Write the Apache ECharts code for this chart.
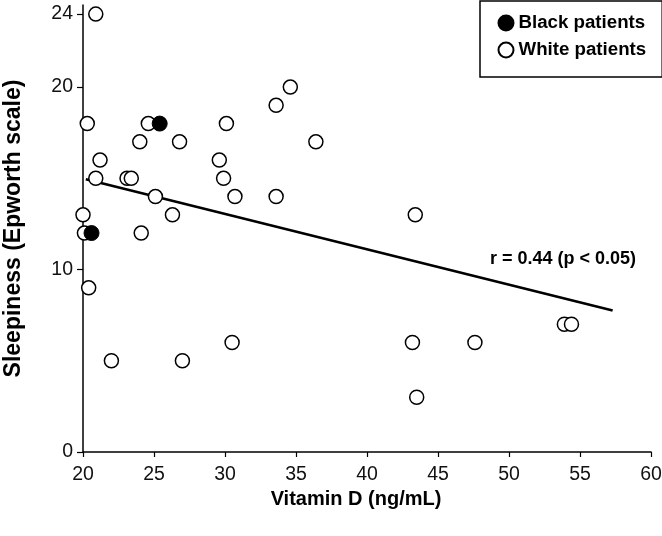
<!DOCTYPE html>
<html>
<head>
<meta charset="utf-8">
<script src="https://cdn.jsdelivr.net/npm/echarts@6/dist/echarts.min.js"></script>
<style>
html,body{margin:0;padding:0;background:#fff;}
#chart{width:662px;height:536px;}
</style>
</head>
<body>
<div id="chart"></div>
<script>
// Data
var whiteVitD  = [20.9, 20.3, 24.6, 30.1, 24.0, 26.8, 36.4, 21.2, 29.6, 20.9, 23.1, 23.4, 29.9, 25.1, 30.7, 33.6, 20.0, 26.3, 43.4, 20.1, 24.1, 33.6, 34.6, 20.4, 22.0, 27.0, 30.5, 43.2, 47.6, 53.9, 54.4, 43.5];
var whiteSleep = [24,   18,   18,   18,   17,   17,   17,   16,   16,   15,   15,   15,   15,   14,   14,   14,   13,   13,   13,   12,   12,   19,   20,   9,    5,    5,    6,    6,    6,    7,    7,    3];
var blackVitD  = [25.4, 20.6];
var blackSleep = [18,   12];
var fitVitD    = [20.2, 57.3];
var fitSleep   = [14.95, 7.75];
var yTickValues = [0, 10, 20, 24];
var annotationText = 'r = 0.44 (p < 0.05)';

function zip(xs, ys) { return xs.map(function (x, i) { return [x, ys[i]]; }); }

var FONT = '"Liberation Sans", Arial, sans-serif';

var chart = echarts.init(document.getElementById('chart'), null, {renderer: 'canvas'});
chart.setOption({
  animation: false,
  backgroundColor: '#fff',
  grid: {left: 83, right: 11, top: 5, bottom: 84, containLabel: false, outerBoundsMode: 'none'},
  xAxis: {
    type: 'value', min: 20, max: 60, interval: 5,
    name: 'Vitamin D (ng/mL)', nameLocation: 'middle', nameGap: 29,
    nameTextStyle: {fontFamily: FONT, fontSize: 20, fontWeight: 'bold', color: '#000', padding: [0, 22, 0, 0]},
    axisLine: {show: true, lineStyle: {color: '#000', width: 1.5}},
    axisTick: {show: true, length: 5, lineStyle: {color: '#000', width: 1.2}},
    axisLabel: {fontFamily: FONT, fontSize: 19.5, color: '#111', margin: 13},
    splitLine: {show: false}
  },
  yAxis: {
    type: 'value', min: 0, max: 24.5,
    name: 'Sleepiness (Epworth scale)', nameLocation: 'middle', nameGap: 58,
    nameTextStyle: {fontFamily: FONT, fontSize: 23, fontWeight: 'bold', color: '#000'},
    axisLine: {show: true, lineStyle: {color: '#000', width: 1.5}},
    axisTick: {show: true, length: 6, customValues: yTickValues, lineStyle: {color: '#000', width: 1.2}},
    axisLabel: {fontFamily: FONT, fontSize: 19.5, color: '#111', margin: 10, customValues: yTickValues},
    splitLine: {show: false}
  },
  legend: {
    orient: 'vertical', left: 480, top: 1,
    padding: [10.5, 16, 15.5, 17.5],
    itemGap: 4, itemWidth: 15, itemHeight: 15,
    borderColor: '#000', borderWidth: 1.5, backgroundColor: '#fff',
    icon: 'circle',
    textStyle: {fontFamily: FONT, fontSize: 18.7, lineHeight: 23, fontWeight: 'bold', color: '#000'},
    data: ['Black patients', 'White patients']
  },
  graphic: [{
    type: 'text', left: 490, top: 250,
    style: {text: annotationText, fontFamily: FONT, fontSize: 18, fontWeight: 'bold', fill: '#000'}
  }],
  series: [
    {
      name: 'fit', type: 'line', data: zip(fitVitD, fitSleep),
      symbol: 'none', lineStyle: {color: '#000', width: 2.6}, z: 1, silent: true
    },
    {
      name: 'White patients', type: 'scatter', data: zip(whiteVitD, whiteSleep),
      symbol: 'circle', symbolSize: 14,
      itemStyle: {color: '#fff', borderColor: '#000', borderWidth: 1.5, opacity: 1}, z: 3
    },
    {
      name: 'Black patients', type: 'scatter', data: zip(blackVitD, blackSleep),
      symbol: 'circle', symbolSize: 15,
      itemStyle: {color: '#000', borderColor: '#000', borderWidth: 1, opacity: 1}, z: 4
    }
  ]
});
</script>
</body>
</html>
